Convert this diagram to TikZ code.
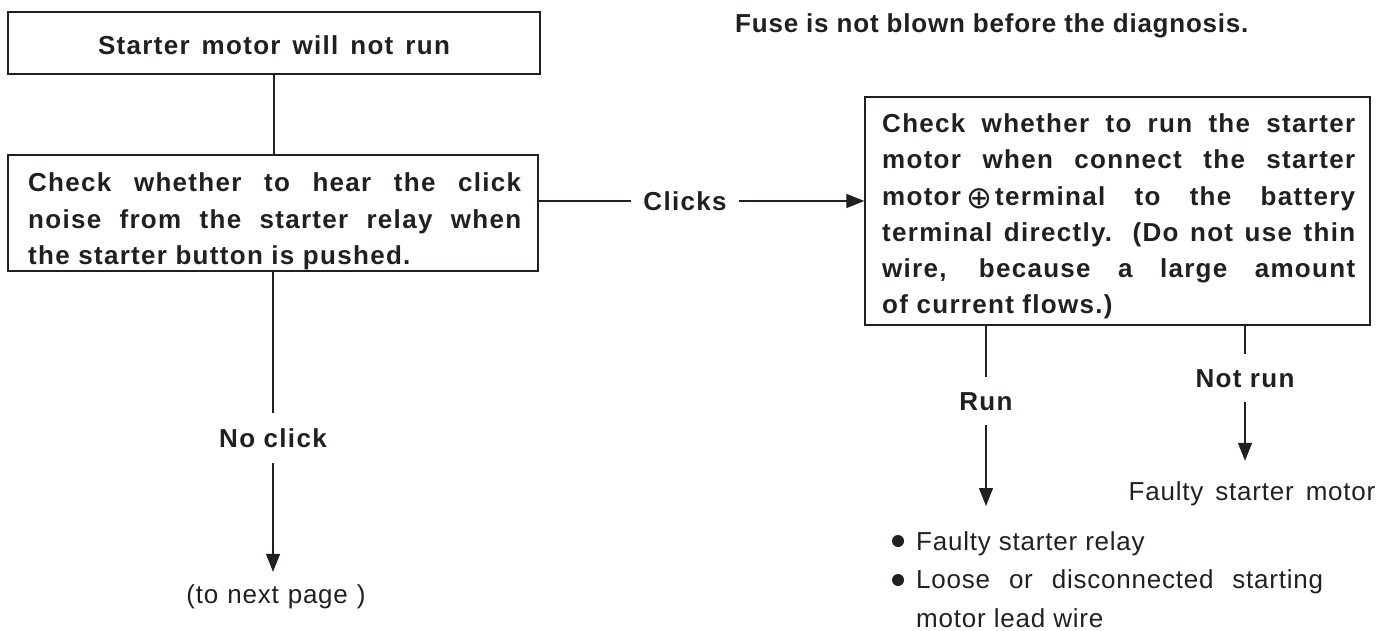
\documentclass[tikz,border=0pt]{standalone}
\usepackage{fontspec}
\setmainfont{Liberation Sans}
\newfontfamily\tfont[LetterSpace=5]{Liberation Sans}
\newfontfamily\ffont[LetterSpace=3]{Liberation Sans}
\newfontfamily\nfont[LetterSpace=3]{Liberation Sans}
\newfontfamily\dvsym{DejaVu Sans}
\usetikzlibrary{arrows.meta}
\definecolor{ink}{HTML}{231F20}
\newcommand\jline[2]{\hbox to #1{#2}}
\newcommand\plusterm{\raisebox{-3pt}{\dvsym\mdseries\fontsize{31}{31}\selectfont ⊕}}
\begin{document}
\begin{tikzpicture}[x=1pt,y=-1pt,
  frame/.style={draw=ink,line width=1.4pt,inner sep=0pt},
  conn/.style={draw=ink,line width=1.3pt},
  arr/.style={conn,-{Triangle[length=18pt,width=14pt]}},
  bfnt/.style={font=\tfont\bfseries\fontsize{26}{36}\selectfont},
  lbl/.style={bfnt,text=ink,inner xsep=12pt,inner ysep=0pt,text height=19pt,text depth=0pt},
  txt/.style={bfnt,text=ink,inner sep=0pt,anchor=base west},
  ntxt/.style={font=\nfont\fontsize{26}{36}\selectfont,text=ink,inner sep=0pt},
  dot/.style={circle,fill=ink,minimum size=12pt,inner sep=0pt}]
\useasboundingbox (0,0) rectangle (1396,631);

% box 1
\node[frame,minimum width=532pt,minimum height=62pt] (b1) at (274,43) {};
\node[bfnt,text=ink,inner sep=0pt,text height=19pt,text depth=0pt] (t1) at (274,45) {\spaceskip=12pt\relax Starter motor will not run};

% box 2
\node[frame,minimum width=530pt,minimum height=116pt] (b2) at (273,213) {};
\node[txt] (t2a) at (28,192) {\jline{493pt}{Check whether to hear the click}};
\node[txt] (t2b) at (28,228) {\jline{493pt}{noise from the starter relay when}};
\node[txt] (t2c) at (28,264) {the starter button is pushed.};

% note
\node[font=\ffont\bfseries\fontsize{26}{36}\selectfont,text=ink,inner sep=0pt,anchor=base west] (fuse) at (735,33) {Fuse is not blown before the diagnosis.};

% right box
\node[frame,minimum width=505pt,minimum height=228pt] (rb) at (1117.5,211) {};
\node[txt] (r1) at (882,133) {\jline{473pt}{Check whether to run the starter}};
\node[txt] (r2) at (882,169) {\jline{473pt}{motor when connect the starter}};
\node[txt] (r3) at (882,205) {\jline{473pt}{motor\hspace{5pt}\plusterm\hspace{3pt}terminal to the battery}};
\node[txt] (r4) at (882,241) {\jline{473pt}{terminal directly. (Do not use thin}};
\node[txt] (r5) at (882,277) {\jline{473pt}{wire, because a large amount}};
\node[txt] (r6) at (882,313) {of current flows.)};

% labels
\node[lbl] (clk) at (685,201) {Clicks};
\node[lbl,minimum height=50pt] (nc) at (273,438) {No click};
\node[lbl,minimum height=48pt] (run) at (986,401) {Run};
\node[lbl,minimum height=47pt] (nr) at (1245,378) {Not run};

% results
\node[ntxt,anchor=base,inner ysep=12pt,text height=19pt,text depth=5pt] (ntp) at (276,603) {\spaceskip=9pt\relax (to next page )};
\node[ntxt,anchor=base,inner ysep=20pt,text height=19pt,text depth=5pt] (fsm) at (1252,500) {\spaceskip=12pt\relax Faulty starter motor};
\coordinate (runend) at (986,506);
\node[dot] (d1) at (898,541) {};
\node[dot] (d2) at (898,580) {};
\node[ntxt,anchor=base west] (l1) at (916,550) {Faulty starter relay};
\node[ntxt,anchor=base west] (l2) at (916,588) {\jline{407pt}{Loose or disconnected starting}};
\node[ntxt,anchor=base west] (l3) at (916,627) {motor lead wire};

% connectors
\draw[conn] (b1.south) -- (b1.south |- b2.north);
\draw[conn] (b2.east |- clk) -- (clk.west);
\draw[arr] (clk.east) -- (clk -| rb.west);
\draw[conn] (b2.south -| nc) -- (nc.north);
\draw[arr] (nc.south) -- (nc.south |- ntp.north);
\draw[conn] (rb.south -| run) -- (run.north);
\draw[arr] (run.south) -- (runend);
\draw[conn] (rb.south -| nr) -- (nr.north);
\draw[arr] (nr.south) -- (nr.south |- fsm.north);
\end{tikzpicture}
\end{document}
